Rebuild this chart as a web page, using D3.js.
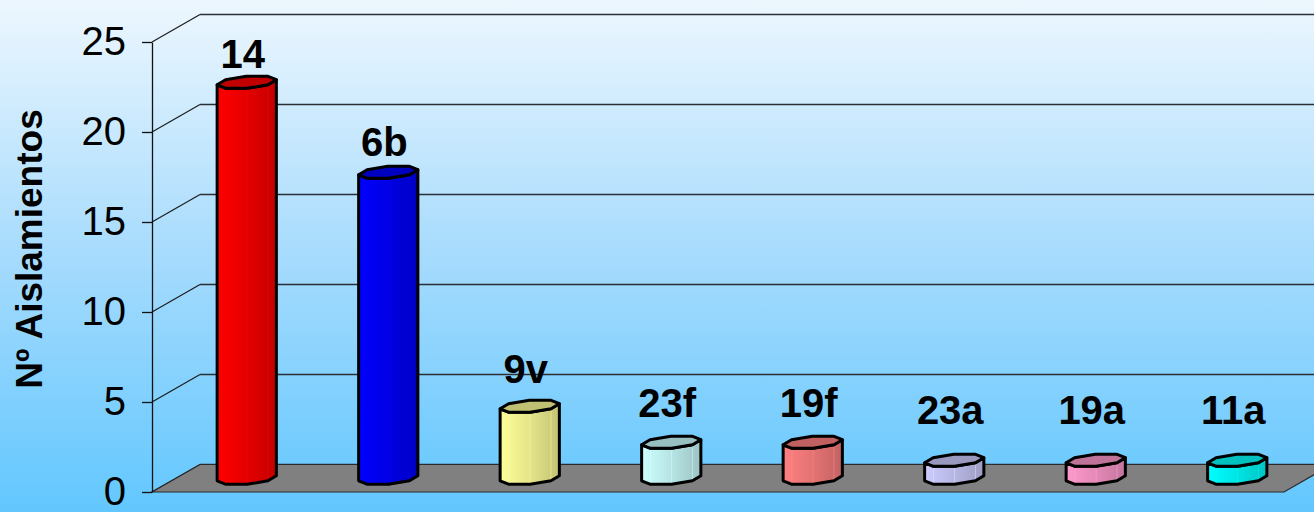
<!DOCTYPE html>
<html>
<head>
<meta charset="utf-8">
<script src="https://cdn.jsdelivr.net/npm/d3@7/dist/d3.min.js"></script>
<style>
  html, body { margin: 0; padding: 0; overflow: hidden; }
  svg { display: block; }
  text { font-family: "Liberation Sans", Arial, sans-serif; }
</style>
</head>
<body>
<svg id="chart" width="1314" height="512"></svg>
<script>
// Serotypes and isolate counts
const categories = ["14", "6b", "9v", "23f", "19f", "23a", "19a", "11a"];
const counts = [22, 17, 4, 2, 2, 1, 1, 1];
const barColors = ["#ff0000", "#0000ff", "#ffff99", "#ccffff", "#ff8080", "#ccccff", "#ff99cc", "#00ffff"];
const yTicks = [0, 5, 10, 15, 20, 25];
const yTitle = "Nº Aislamientos";

const W = 1314, H = 512;
const svg = d3.select("#chart");

// plot frame (front plane) and 3D depth offset
const frontLeft = 152, frontRight = 1284;
const yTop = 42, yBottom = 492;
const depthX = 48, depthY = 27.5;

const x = d3.scaleBand().domain(categories).range([frontLeft, frontRight]).padding(0);
const y = d3.scaleLinear().domain([0, 25]).range([yBottom, yTop]);

const defs = svg.append("defs");

// background
const bg = defs.append("linearGradient").attr("id", "bg").attr("x1", 0).attr("y1", 0).attr("x2", 0).attr("y2", 1);
bg.append("stop").attr("offset", "0%").attr("stop-color", "#edf7fe");
bg.append("stop").attr("offset", "50%").attr("stop-color", "#a6dbfd");
bg.append("stop").attr("offset", "100%").attr("stop-color", "#62c7fe");
svg.append("rect").attr("width", W).attr("height", H).attr("fill", "url(#bg)");

// back wall gridlines and side wall lines
const grid = svg.append("g");
yTicks.forEach(t => {
  const yy = y(t);
  grid.append("line")
    .attr("x1", frontLeft + depthX).attr("x2", W + 5)
    .attr("y1", yy - depthY).attr("y2", yy - depthY)
    .attr("stroke", "#2a2f36").attr("stroke-width", 1.4);
  grid.append("line")
    .attr("x1", frontLeft).attr("y1", yy)
    .attr("x2", frontLeft + depthX).attr("y2", yy - depthY)
    .attr("stroke", "#1c1c1c").attr("stroke-width", 1.2);
});

// floor
svg.append("polygon")
  .attr("points", [
    [frontLeft, y(0)], [frontRight, y(0)],
    [frontRight + depthX, y(0) - depthY], [frontLeft + depthX, y(0) - depthY]
  ].map(p => p.join(",")).join(" "))
  .attr("fill", "#808080").attr("stroke", "#2b2b2b").attr("stroke-width", 1.2);

// octagonal prism bars
const hw = 27.5, ox = 11, oy = 6.6;
const oct = d3.range(8).map(k => {
  const a = (22.5 + 45 * k) * Math.PI / 180;
  return [Math.cos(a), Math.sin(a)];
});
function project(cx, cy, p) {
  return [cx + p[0] * hw + p[1] * ox, cy - p[1] * oy];
}

const bars = svg.append("g");
categories.forEach((c, i) => {
  const v = counts[i];
  const cx = x(c) + x.bandwidth() / 2 + depthX / 2;
  const baseY = y(0) - depthY / 2;
  const topY = y(v) - depthY / 2;
  const base = d3.color(barColors[i]);

  const topPts = oct.map(p => project(cx, topY, p));
  const botPts = oct.map(p => project(cx, baseY, p));

  // front-facing chain of vertices between the leftmost and rightmost corners
  const iMin = d3.minIndex(topPts, p => p[0]);
  const iMax = d3.maxIndex(topPts, p => p[0]);
  const pathA = [], pathB = [];
  for (let k = iMin; ; k = (k + 1) % 8) { pathA.push(k); if (k === iMax) break; }
  for (let k = iMin; ; k = (k + 7) % 8) { pathB.push(k); if (k === iMax) break; }
  const avg = ids => d3.mean(ids, k => topPts[k][1]);
  const chain = avg(pathA) > avg(pathB) ? pathA : pathB;

  const gid = "barGrad" + i;
  const g = defs.append("linearGradient").attr("id", gid)
    .attr("gradientUnits", "userSpaceOnUse")
    .attr("x1", topPts[iMin][0]).attr("x2", topPts[iMax][0]).attr("y1", 0).attr("y2", 0);
  g.append("stop").attr("offset", "0%").attr("stop-color", base.formatHex());
  g.append("stop").attr("offset", "55%").attr("stop-color", base.darker(0.35).formatHex());
  g.append("stop").attr("offset", "100%").attr("stop-color", base.darker(0.75).formatHex());

  const body = chain.map(k => topPts[k]).concat(chain.slice().reverse().map(k => botPts[k]));
  bars.append("polygon")
    .attr("points", body.map(p => p.join(",")).join(" "))
    .attr("fill", `url(#${gid})`);

  // faint facet edges
  chain.slice(1, -1).forEach(k => {
    bars.append("line")
      .attr("x1", topPts[k][0]).attr("y1", topPts[k][1])
      .attr("x2", botPts[k][0]).attr("y2", botPts[k][1])
      .attr("stroke", base.brighter(0.4).formatHex()).attr("stroke-opacity", 0.45).attr("stroke-width", 1);
  });

  bars.append("polygon")
    .attr("points", body.map(p => p.join(",")).join(" "))
    .attr("fill", "none").attr("stroke", "#000").attr("stroke-width", 3)
    .attr("stroke-linejoin", "round");

  bars.append("polygon")
    .attr("points", topPts.map(p => p.join(",")).join(" "))
    .attr("fill", base.darker(0.8).formatHex())
    .attr("stroke", "#000").attr("stroke-width", 3).attr("stroke-linejoin", "round");

  // serotype label above the bar
  const labelLevel = Math.max(v * 0.97 + 2.2, 3.8);
  bars.append("text")
    .attr("x", cx - 4).attr("y", y(labelLevel))
    .attr("text-anchor", "middle")
    .attr("font-size", 40).attr("font-weight", "bold").attr("fill", "#000")
    .text(c);
});

// value axis on the front-left edge
const axis = d3.axisLeft(y).tickValues(yTicks).tickSize(10).tickSizeOuter(0).tickPadding(16);
const ax = svg.append("g").attr("transform", `translate(${frontLeft},0)`).call(axis);
ax.select(".domain").attr("stroke", "#111").attr("stroke-width", 1.3);
ax.selectAll(".tick line").attr("stroke", "#111").attr("stroke-width", 1.3);
ax.selectAll(".tick text").attr("font-size", 40).attr("fill", "#000")
  .attr("font-family", "'Liberation Sans', Arial, sans-serif");

// axis title
svg.append("text")
  .attr("transform", "translate(42,249) rotate(-90)")
  .attr("text-anchor", "middle")
  .attr("font-size", 37).attr("font-weight", "bold").attr("fill", "#000")
  .text(yTitle);
</script>
</body>
</html>
